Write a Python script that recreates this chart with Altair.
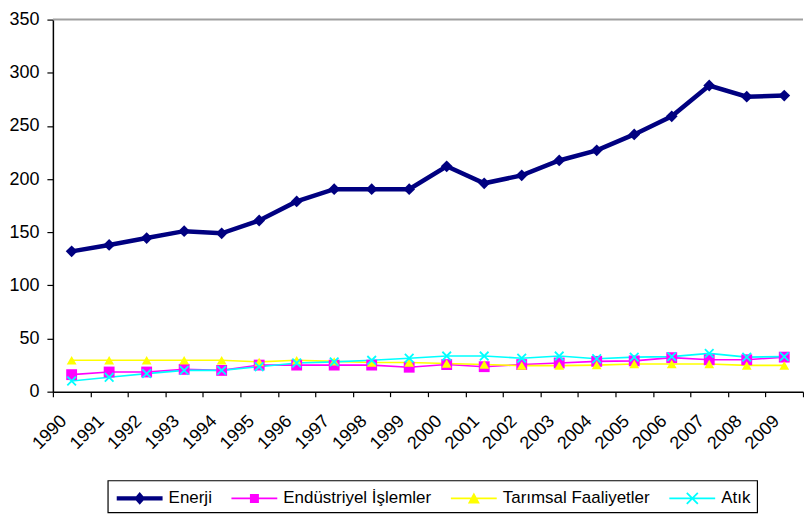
import altair as alt
import pandas as pd

years = [str(y) for y in range(1990, 2010)]
series = ["Enerji", "Endüstriyel İşlemler", "Tarımsal Faaliyetler", "Atık"]
colors = ["#000080", "#FF00FF", "#FFFF00", "#00FFFF"]

enerji = [132, 138, 144.5, 151, 149, 161, 179, 190.5, 190.5, 190.5,
          212, 196, 203.5, 217.5, 227, 242, 259, 288, 277.5, 278.5]
endustriyel = [16, 18.5, 18.5, 21, 20, 25, 25, 25, 25, 23,
               25.5, 23.5, 25.5, 27, 28.5, 29, 32, 30, 30, 32.5]
tarimsal = [29.5, 29.5, 29.5, 29.5, 29.5, 28, 29.5, 28.5, 27.5, 27.5,
            26.5, 25.5, 24.5, 24.5, 25, 26, 26, 26, 24.7, 24.7]
atik = [10, 13.5, 17, 20, 20, 23.5, 27, 28, 29.5, 31.5,
        33.5, 33.5, 31.5, 33.5, 31, 32.5, 33, 36, 32.5, 33]

values = [enerji, endustriyel, tarimsal, atik]
rows = []
for s, vals in zip(series, values):
    for y, v in zip(years, vals):
        rows.append({"year": y, "series": s, "value": v})
df = pd.DataFrame(rows)
year_df = pd.DataFrame({"year": years})

FONT = "Liberation Sans"

x_scale = alt.Scale(type="band", paddingInner=0, paddingOuter=0)
x_axis = alt.Axis(title=None, tickBand="extent", labels=False, tickSize=5)

x_enc = alt.X("year:O", sort=years, scale=x_scale, axis=x_axis)
y_enc = alt.Y(
    "value:Q",
    scale=alt.Scale(domain=[0, 350], nice=False),
    axis=alt.Axis(title=None, values=list(range(0, 351, 50)), grid=False, tickSize=6,
                  labelFontSize=18, labelPadding=8),
)

color_scale = alt.Scale(domain=series, range=colors)

lines = alt.Chart(df).mark_line().encode(
    x=x_enc, y=y_enc,
    color=alt.Color("series:N", scale=color_scale, legend=None),
    strokeWidth=alt.condition("datum.series == 'Enerji'", alt.value(4.5), alt.value(1.6)),
)

xpath = "M-1,-1L1,1M1,-1L-1,1"
marker_shape = alt.Scale(domain=series, range=["diamond", "square", "triangle-up", xpath])
marker_size = alt.Scale(domain=series, range=[140, 75, 150, 120])

filled_pts = alt.Chart(df).transform_filter("datum.series != 'Atık'").mark_point(
    filled=True, opacity=1
).encode(
    x=x_enc, y=y_enc,
    color=alt.Color("series:N", scale=color_scale, legend=None),
    shape=alt.Shape("series:N", scale=marker_shape, legend=None),
    size=alt.Size("series:N", scale=marker_size, legend=None),
)
cross_pts = alt.Chart(df).transform_filter("datum.series == 'Atık'").mark_point(
    filled=False, opacity=1, strokeWidth=1.8
).encode(
    x=x_enc, y=y_enc,
    color=alt.Color("series:N", scale=color_scale, legend=None),
    shape=alt.Shape("series:N", scale=marker_shape, legend=None),
    size=alt.Size("series:N", scale=marker_size, legend=None),
)

# rotated category labels under the axis (text marks placed by the x scale)
x_labels = alt.Chart(year_df).mark_text(
    angle=315, align="right", baseline="middle", font=FONT, fontSize=18,
    color="black",
).encode(
    x=alt.X("year:O", sort=years, scale=x_scale, axis=x_axis, bandPosition=0.3),
    y=alt.value(400),
    text="year:N",
)

top_rule = alt.Chart(pd.DataFrame({"v": [350]})).mark_rule(
    color="#A0A0A0", strokeWidth=2
).encode(y=alt.Y("v:Q", scale=alt.Scale(domain=[0, 350], nice=False)))

# legend glyphs: unit = 12 px (symbolSize 576); line from -0.75 to 3.08, marker at 1.17
L0, L1, MC = -0.75, 3.08, 1.17


def bar(h):
    return f"M{L0},{-h}L{L1},{-h}L{L1},{h}L{L0},{h}Z"


def xmark(cx, r, d):
    return (f"M{cx - r + d},{-r - d}L{cx + r + d},{r - d}L{cx + r - d},{r + d}L{cx - r - d},{-r + d}Z"
            f"M{cx - r + d},{r + d}L{cx - r - d},{r - d}L{cx + r - d},{-r - d}L{cx + r + d},{-r + d}Z")


legend_paths = [
    bar(0.18) + f"M{MC},-0.54L{MC + 0.46},0L{MC},0.54L{MC - 0.46},0Z",
    bar(0.067) + f"M{MC - 0.375},-0.375L{MC + 0.375},-0.375L{MC + 0.375},0.375L{MC - 0.375},0.375Z",
    bar(0.067) + f"M{MC},-0.5L{MC + 0.5},0.42L{MC - 0.5},0.42Z",
    bar(0.067) + xmark(MC, 0.46, 0.053),
]


def mk_legend():
    return alt.Legend(
        title=None, orient="none", legendX=55, legendY=462,
        direction="horizontal", strokeColor="black", padding=6,
        labelFont=FONT, labelFontSize=17, labelColor="black",
        symbolSize=576, labelOffset=31, columnPadding=16,
        columns=4, labelLimit=300, symbolStrokeWidth=0,
    )


legend_layer = alt.Chart(df).transform_filter("false").mark_point(
    filled=True, opacity=1
).encode(
    fill=alt.Fill("series:N", scale=alt.Scale(domain=series, range=colors),
                  legend=mk_legend()),
    shape=alt.Shape("series:N", scale=alt.Scale(domain=series, range=legend_paths),
                    legend=mk_legend()),
)

chart = alt.layer(top_rule, lines, filled_pts, cross_pts, x_labels, legend_layer).resolve_scale(
    shape="independent", fill="independent"
).properties(
    width=752, height=373,
    padding={"left": 0, "top": 2, "right": 0, "bottom": 0},
).configure_view(stroke=None).configure_axis(
    labelFont=FONT, labelColor="black", domainColor="black", tickColor="black",
    domainWidth=1.5, tickWidth=1.2,
).configure_legend(
    strokeColor="black", strokeWidth=1.2, padding=6,
)

chart.save("out.html", embed_options={"renderer": "svg", "actions": False})
